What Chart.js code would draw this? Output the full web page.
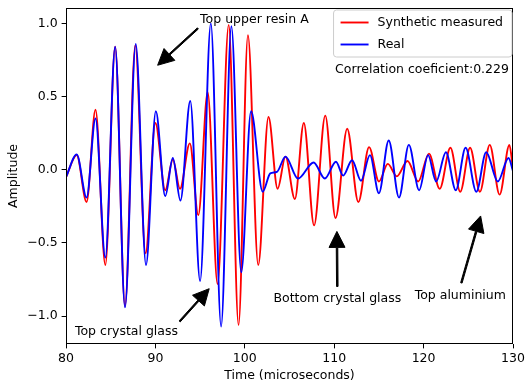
<!DOCTYPE html>
<html>
<head>
<meta charset="utf-8">
<script src="https://cdn.jsdelivr.net/npm/chart.js@4.4.0/dist/chart.umd.min.js"></script>
<style>
  html, body { margin: 0; padding: 0; background: #fff; }
</style>
</head>
<body>
<canvas id="waveChart" width="526" height="383"></canvas>
<script>
// peaks / troughs, the line is smoothed between them
const synthTime = [80, 81.2, 82.3, 83.3, 84.4, 85.5, 86.6, 87.75, 88.9, 90.0, 91.1, 91.95, 92.75, 93.85, 94.8, 95.85,
  96.95, 98.2, 99.3, 100.35, 101.5, 102.65, 103.67, 104.55, 105.6, 106.6, 107.75, 109.0, 110.15, 111.45, 112.7,
  113.9, 115.0, 116.0, 117.0, 118.2, 119.4, 120.6, 121.8, 123.0, 124.1, 125.2, 126.3, 127.4, 128.5, 129.6, 130];
const synthAmp = [-0.05, 0.10, -0.22, 0.41, -0.65, 0.84, -0.93, 0.85, -0.57, 0.32, -0.14, 0.07, -0.13, 0.18, -0.31, 0.53,
  -0.78, 0.99, -1.06, 0.92, -0.65, 0.36, -0.13, 0.09, -0.20, 0.32, -0.38, 0.37, -0.33, 0.28, -0.22,
  0.155, -0.08, 0.04, -0.045, 0.06, -0.08, 0.11, -0.13, 0.15, -0.15, 0.15, -0.15, 0.17, -0.17, 0.17, 0.0];

const realTime = [80, 81.2, 82.3, 83.3, 84.4, 85.5, 86.6, 87.8, 88.95, 90.05, 91.1, 91.95, 92.8, 93.9, 95.0, 96.2,
  97.35, 98.5, 99.6, 100.7, 102.0, 102.85, 103.6, 104.55, 105.95, 107.7, 108.95, 110.2, 111.0, 112.0, 113.0,
  114.0, 115.0, 116.1, 117.25, 118.35, 119.5, 120.5, 121.4, 122.5, 123.6, 124.7, 125.9, 127.0, 128.3, 129.5, 130];
const realAmp = [-0.05, 0.105, -0.19, 0.35, -0.60, 0.84, -0.94, 0.86, -0.65, 0.40, -0.18, 0.08, -0.21, 0.47, -0.76, 1.0,
  -1.07, 0.98, -0.70, 0.40, -0.15, -0.025, -0.014, 0.09, -0.06, 0.05, -0.06, 0.055, -0.04, 0.065, -0.075,
  0.10, -0.16, 0.20, -0.19, 0.17, -0.14, 0.10, -0.08, 0.12, -0.14, 0.15, -0.15, 0.12, -0.08, 0.08, -0.01];

const xTicks = [80, 90, 100, 110, 120, 130];
const yTicks = [-1.0, -0.5, 0.0, 0.5, 1.0];

// annotations: label, arrow target (data), label position (data)
const noteLabels = ['Top upper resin A', 'Top crystal glass', 'Bottom crystal glass', 'Top aluminium'];
const noteTargets = [[90, 0.7], [96.2, -0.8], [110.3, -0.4], [126.5, -0.29]];
const noteSpots = [[95, 1.0], [81, -1.13], [103.2, -0.9], [119, -0.88]];
const corrLabel = 'Correlation coeficient:0.229';
const corrSpot = [110.1, 0.66];

const FS = 12.5;
const FONT = FS + 'px "DejaVu Sans"';

function toPoints(xs, ys) {
  return xs.map((t, i) => ({ x: t, y: ys[i] }));
}

function arrow(ctx, x0, y0, x1, y1) {
  // matplotlib-ish annotate arrow, shrink 5% at both ends
  const dx = x1 - x0, dy = y1 - y0;
  const len = Math.hypot(dx, dy);
  const ux = dx / len, uy = dy / len;
  const sh = 0.05 * len;
  const sx = x0 + ux * sh, sy = y0 + uy * sh;
  const ex = x1 - ux * sh, ey = y1 - uy * sh;
  const hl = 16, hw = 16, w = 1.5;
  const nx = -uy, ny = ux;
  const bx = ex - ux * hl, by = ey - uy * hl;
  ctx.beginPath();
  ctx.moveTo(sx + nx * w / 2, sy + ny * w / 2);
  ctx.lineTo(bx + nx * w / 2, by + ny * w / 2);
  ctx.lineTo(bx + nx * hw / 2, by + ny * hw / 2);
  ctx.lineTo(ex, ey);
  ctx.lineTo(bx - nx * hw / 2, by - ny * hw / 2);
  ctx.lineTo(bx - nx * w / 2, by - ny * w / 2);
  ctx.lineTo(sx - nx * w / 2, sy - ny * w / 2);
  ctx.closePath();
  ctx.fill();
  ctx.stroke();
}

const extrasPlugin = {
  id: 'extras',
  afterDraw(chart) {
    const { ctx, chartArea: a, scales: { x, y } } = chart;
    ctx.save();

    // frame on all four sides
    ctx.strokeStyle = '#000';
    ctx.lineWidth = 1;
    ctx.strokeRect(Math.round(a.left) + 0.5, Math.round(a.top) + 0.5,
      Math.round(a.right - a.left) - 1, Math.round(a.bottom - a.top) - 1);

    ctx.font = FONT;
    ctx.fillStyle = '#000';
    ctx.textBaseline = 'alphabetic';
    ctx.textAlign = 'left';

    // annotations
    noteLabels.forEach((txt, i) => {
      const tx = x.getPixelForValue(noteSpots[i][0]);
      const ty = y.getPixelForValue(noteSpots[i][1]);
      ctx.fillStyle = '#000';
      ctx.fillText(txt, tx, ty);
      const m = ctx.measureText(txt);
      const top = ty - m.fontBoundingBoxAscent, bot = ty + m.fontBoundingBoxDescent;
      const px = x.getPixelForValue(noteTargets[i][0]);
      const py = y.getPixelForValue(noteTargets[i][1]);
      // start from the corner / edge centre of the label nearest to the target
      const xs = [tx, tx + m.width / 2, tx + m.width];
      const ys = [top, (top + bot) / 2, bot];
      const sx = xs.reduce((p, c) => Math.abs(c - px) < Math.abs(p - px) ? c : p);
      const sy = ys.reduce((p, c) => Math.abs(c - py) < Math.abs(p - py) ? c : p);
      ctx.strokeStyle = '#000';
      ctx.lineWidth = 1;
      arrow(ctx, sx, sy, px, py);
    });

    ctx.fillText(corrLabel, x.getPixelForValue(corrSpot[0]), y.getPixelForValue(corrSpot[1]));

    // legend, upper right
    const ds = chart.data.datasets;
    let tw = 0;
    ds.forEach(d => { tw = Math.max(tw, ctx.measureText(d.label).width); });
    const padL = 7, padR = 9, padV = 5.25, rowH = 14.5, gap = 7.5, hLen = 28, hPad = 9;
    const bw = padL + hLen + hPad + tw + padR;
    const bh = padV * 2 + rowH * ds.length + gap * (ds.length - 1);
    const bx = a.right - 1 - bw, by = a.top + 2;
    ctx.fillStyle = 'rgba(255,255,255,0.8)';
    ctx.strokeStyle = '#cccccc';
    ctx.beginPath();
    ctx.roundRect(bx, by, bw, bh, 3);
    ctx.fill();
    ctx.stroke();
    ds.forEach((d, i) => {
      const cy = by + padV + rowH / 2 + i * (rowH + gap);
      ctx.strokeStyle = d.borderColor;
      ctx.lineWidth = 1.9;
      ctx.beginPath();
      ctx.moveTo(bx + padL, cy);
      ctx.lineTo(bx + padL + hLen, cy);
      ctx.stroke();
      ctx.fillStyle = '#000';
      ctx.textBaseline = 'middle';
      ctx.fillText(d.label, bx + padL + hLen + hPad, cy);
    });
    ctx.restore();
  }
};

const ctx = document.getElementById('waveChart').getContext('2d');
new Chart(ctx, {
  type: 'line',
  data: {
    datasets: [
      { label: 'Synthetic measured', data: toPoints(synthTime, synthAmp), borderColor: '#ff0000', order: 2 },
      { label: 'Real', data: toPoints(realTime, realAmp), borderColor: '#0000ff', order: 1 }
    ]
  },
  options: {
    responsive: false,
    devicePixelRatio: 1,
    animation: false,
    elements: {
      line: { borderWidth: 1.9, cubicInterpolationMode: 'monotone', fill: false },
      point: { radius: 0, hoverRadius: 0 }
    },
    layout: { padding: { left: 0, right: 13, top: 8, bottom: 0 } },
    plugins: { legend: { display: false }, tooltip: { enabled: false } },
    scales: {
      x: {
        type: 'linear',
        min: 80,
        max: 130,
        afterBuildTicks: s => { s.ticks = xTicks.map(v => ({ value: v })); },
        afterFit: s => { s.height = 39; s.paddingLeft = 0; s.paddingRight = 0; },
        ticks: { color: '#000', font: { family: 'DejaVu Sans', size: FS }, padding: 3, maxRotation: 0, callback: v => String(v) },
        grid: { drawOnChartArea: false, tickLength: 4.4, tickColor: '#000' },
        border: { display: false },
        title: { display: true, text: 'Time (microseconds)', color: '#000', font: { family: 'DejaVu Sans', size: FS }, padding: { top: 0, bottom: 0 } }
      },
      y: {
        min: -1.19,
        max: 1.105,
        afterBuildTicks: s => { s.ticks = yTicks.map(v => ({ value: v })); },
        afterFit: s => { s.width = 66; s.paddingTop = 0; s.paddingBottom = 0; },
        ticks: { color: '#000', font: { family: 'DejaVu Sans', size: FS }, padding: 4, callback: v => v.toFixed(1).replace('-', '\u2212') },
        grid: { drawOnChartArea: false, tickLength: 4.4, tickColor: '#000' },
        border: { display: false },
        title: { display: true, text: 'Amplitude', color: '#000', font: { family: 'DejaVu Sans', size: FS }, padding: { top: 6, bottom: 0 } }
      }
    }
  },
  plugins: [extrasPlugin]
});
</script>
</body>
</html>
